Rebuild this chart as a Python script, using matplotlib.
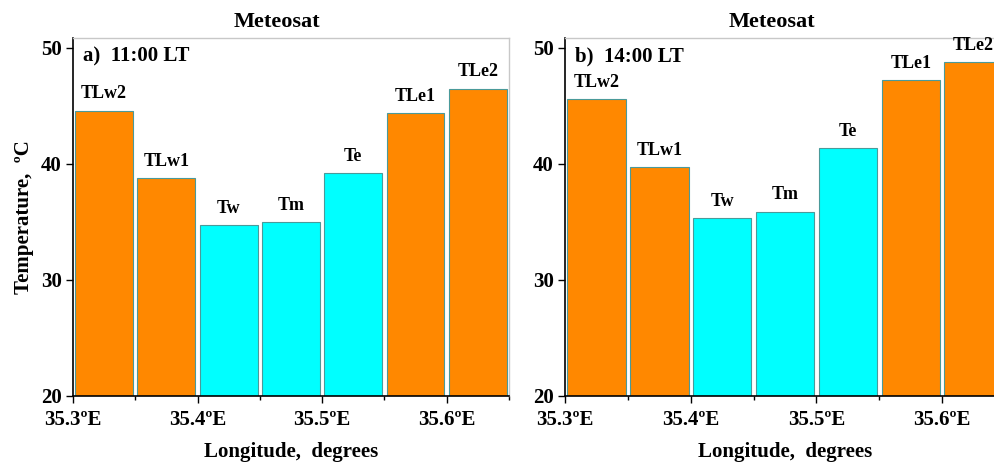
import matplotlib
matplotlib.use("Agg")
import matplotlib.pyplot as plt
from matplotlib.ticker import MultipleLocator

plt.rcParams['font.family'] = ['Liberation Serif', 'DejaVu Serif']
plt.rcParams['font.weight'] = 'bold'

# bar names and centre longitudes (degrees E)
labels = ['TLw2', 'TLw1', 'Tw', 'Tm', 'Te', 'TLe1', 'TLe2']
lons = [35.325, 35.375, 35.425, 35.475, 35.525, 35.575, 35.625]

# temperatures (deg C)
temp_11 = [44.6, 38.8, 34.7, 35.0, 39.2, 44.4, 46.5]
temp_14 = [45.6, 39.7, 35.3, 35.9, 41.4, 47.2, 48.8]

xticks = [35.3, 35.4, 35.5, 35.6]
xticklabels = ['35.3ºE', '35.4ºE', '35.5ºE', '35.6ºE']
yticks = [20, 30, 40, 50]

ORANGE = '#FF8800'
CYAN = '#00FFFF'
colors = [ORANGE if l.startswith('TL') else CYAN for l in labels]

fig = plt.figure(figsize=(9.94, 4.62), dpi=100)
ax1 = fig.add_axes([0.0734, 0.1429, 0.4386, 0.775])
ax2 = fig.add_axes([0.5684, 0.1429, 0.4427, 0.775])


def draw(ax, temps, tag):
    ax.bar(lons, temps, width=0.0465, bottom=0, color=colors,
           edgecolor='#4a9a9a', linewidth=0.8)
    for x, t, l in zip(lons, temps, labels):
        ax.text(x, t + 0.7, l, ha='center', va='bottom', fontsize=13,
                fontweight='bold')
    ax.set_xlim(35.3, 35.65)
    ax.set_ylim(20, 50.86)
    ax.set_yticks(yticks)
    ax.set_xticks(xticks)
    ax.set_xticklabels(xticklabels)
    ax.xaxis.set_minor_locator(MultipleLocator(0.05))
    ax.tick_params(axis='both', which='major', direction='out', length=5,
                   width=1, labelsize=15, pad=3)
    ax.tick_params(axis='x', which='major', pad=5)
    ax.tick_params(axis='x', which='minor', direction='out', length=3, width=1)
    for s in ['left', 'bottom']:
        ax.spines[s].set_color('black')
        ax.spines[s].set_linewidth(1.2)
    for s in ['top', 'right']:
        ax.spines[s].set_color('#c8c8c8')
        ax.spines[s].set_linewidth(1)
    ax.set_xlabel('Longitude,  degrees', fontsize=15, fontweight='bold',
                  labelpad=9)
    ax.text(0.022, 0.975, tag, transform=ax.transAxes, ha='left', va='top',
            fontsize=15, fontweight='bold')


draw(ax1, temp_11, 'a)  11:00 LT')
draw(ax2, temp_14, 'b)  14:00 LT')
ax1.set_ylabel('Temperature,  ºC', fontsize=15, fontweight='bold', labelpad=5)

fig.text(277 / 994, 1 - 22 / 462, 'Meteosat', ha='center', va='center',
         fontsize=16, fontweight='bold')
fig.text(772 / 994, 1 - 22 / 462, 'Meteosat', ha='center', va='center',
         fontsize=16, fontweight='bold')

fig.savefig('out.png', dpi=100)
